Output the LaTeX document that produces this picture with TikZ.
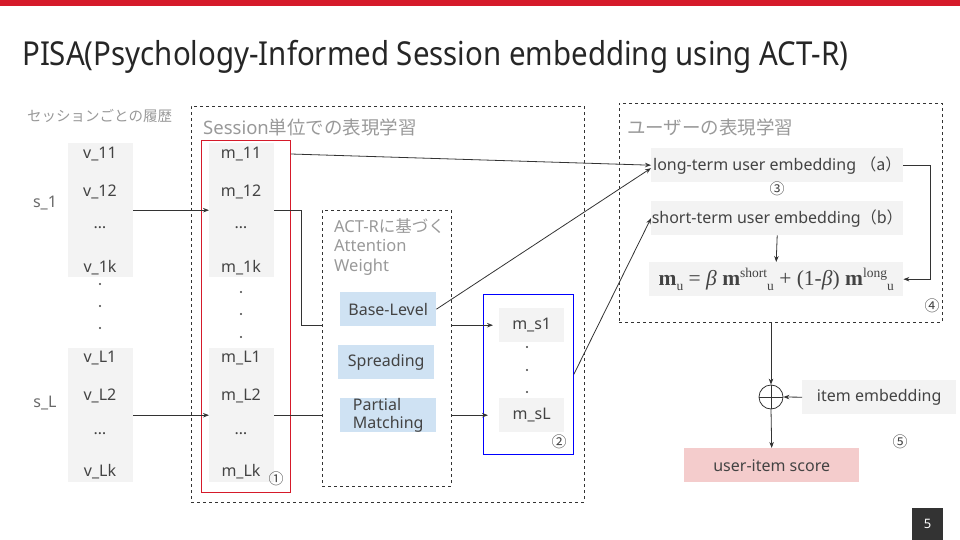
\documentclass[tikz,border=0pt]{standalone}
\usepackage{fontspec}
\setmainfont{Noto Sans}
\newfontfamily\jp{Noto Sans CJK JP}
\newfontfamily\tm{Liberation Serif}
\usepackage{graphicx}
\usepackage{tikz}
\usetikzlibrary{positioning,calc,arrows.meta}
\definecolor{pisared}{HTML}{D51A2A}
\definecolor{boxgray}{HTML}{F3F3F3}
\definecolor{boxblue}{HTML}{CFE2F3}
\definecolor{boxpink}{HTML}{F4CCCC}
\definecolor{labelgray}{HTML}{999999}
\definecolor{ink}{HTML}{434343}
\definecolor{linegray}{HTML}{333333}
\newcommand{\lowu}{\raisebox{-5pt}{\fontsize{13.5}{13.5}\selectfont u}}
\newcommand{\highidx}[1]{\raisebox{7.5pt}{\fontsize{13.5}{13.5}\selectfont #1}}

\begin{document}
\begin{tikzpicture}[x=1pt, y=-1pt, >={Stealth[length=6pt,width=4.5pt]},
  every node/.style={font=\fontsize{16}{18}\selectfont, text=ink, inner sep=0pt},
  col/.style={fill=boxgray, minimum width=65pt, minimum height=134pt, anchor=north west},
  graybox/.style={fill=boxgray, minimum width=#1, minimum height=34pt, anchor=north west},
  wbox/.style={fill=boxblue, minimum width=96pt, minimum height=34pt, align=left, anchor=north west},
  group/.style={draw=linegray, dashed, minimum width=#1, anchor=north west},
  grouptitle/.style={anchor=west, text=labelgray, font=\fontsize{18.5}{20}\selectfont},
  num/.style={font=\jp\fontsize{15}{15}\selectfont},
  conn/.style={draw=linegray, line width=0.8pt}]
\useasboundingbox (0,0) rectangle (960,540);

% top bar and title
\fill[pisared] (0,0) rectangle (960,6);
\node[anchor=base west, text=black!85, font=\fontsize{33}{36}\selectfont] (title) at (22,66)
  {\resizebox{826pt}{\height}{PISA(Psychology-Informed Session embedding using ACT-R)}};

% session history
\node[anchor=west, text=labelgray, font=\jp\fontsize{14.5}{16}\selectfont] (histlabel) at (27,116) {セッションごとの履歴};
\node[text=ink!80] (s1) at (45,203) {s\_1};
\node[text=ink!80] (sL) at (45,403) {s\_L};

% containers
\node[group=393pt, minimum height=396pt] (sess) at (191,106) {};
\node[grouptitle] (sesstitle) at (203,127) {Session{\jp 単位での表現学習}};
\node[group=129pt, minimum height=276pt] (actr) at (322,210) {};
\node[anchor=north west, align=left, text=labelgray, font=\fontsize{16.5}{19.5}\selectfont] (actrtitle) at (334,218)
  {ACT-R{\jp に基づく}\\Attention\\Weight};
\node[group=323pt, minimum height=219pt] (user) at (619,103) {};
\node[grouptitle] (usertitle) at (627,127) {\jp ユーザーの表現学習};

% item and session columns
\node[col] (vcol1) at (68,143) {};
\node[col] (vcolL) at (68,348) {};
\node[col] (mcol1) at (209,143) {};
\node[col] (mcolL) at (209,348) {};
\foreach \c/\x in {v/100, m/241} {
  \foreach \r/\y in {11/154, 12/192, 1k/268, L1/358, L2/396, Lk/472}
    \node (\c\r) at (\x,\y) {\c\_\r};
  \foreach \y in {228, 434}
    \node (\c e\y) at (\x,\y) {…};
}
\foreach \y in {284,306,328} \fill[ink] (100,\y) circle (1.1pt);
\foreach \y in {292,314,337} \fill[ink] (241,\y) circle (1.1pt);
\node[draw=pisared, line width=0.8pt, minimum width=89pt, minimum height=352pt, anchor=north west] (mred) at (201,140) {};
\node[num] (n1) at (276,479) {①};

% attention weights
\node[wbox] (base) at (340,292) {Base-Level};
\node[wbox] (spread) at (338,345) {Spreading};
\node[wbox] (partial) at (340,398) {Partial\\Matching};

% session embeddings
\node[draw=blue, line width=0.8pt, minimum width=90pt, minimum height=160pt, anchor=north west] (sbox) at (483,294) {};
\node[graybox=65pt] (ms1) at (499,308) {m\_s1};
\node[graybox=65pt] (msL) at (499,398) {m\_sL};
\foreach \y in {347,370,392} \fill[ink] (527,\y) circle (1.1pt);
\node[num] (n2) at (559,442) {②};

% user embeddings
\node[graybox=252pt] (lt) at (651,148) {long-term user embedding\ {\jp（a）}};
\node[num] (n3) at (777,189) {③};
\node[graybox=252pt] (st) at (651,201) {short-term user embedding{\jp（b）}};
\node[graybox=254pt] (fm) at (649,262)
  {\tm\fontsize{21.5}{23}\selectfont\textbf{m}\lowu{} = \textit{β} \textbf{m}\highidx{short}\lowu{} + (1-\textit{β}) \textbf{m}\highidx{long}\lowu};
\node[num] (n4) at (932,306) {④};

% scoring
\node[circle, draw=linegray, line width=0.8pt, minimum size=24pt] (plus) at (771,397) {};
\node[graybox=154pt] (item) at (802,380) {item embedding};
\node[fill=boxpink, minimum width=175pt, minimum height=34pt, anchor=north west] (score) at (684,448) {user-item score};
\node[num] (n5) at (900,442) {⑤};
\node[fill=linegray, text=white, minimum width=31pt, minimum height=32pt, anchor=north west, font=\fontsize{13}{13}\selectfont] (pageno) at (912,508) {5};

% connectors
\draw[conn, ->] (vcol1.east) -- (mcol1.west);
\draw[conn, ->] (vcolL.east) -- (mcolL.west);
\draw[conn, ->] (mred.east |- m11) -- (lt.west);
\draw[conn] (mcol1.east) -- ++(27,0) |- (actr.west |- ms1.west);
\draw[conn] (mcolL.east) -- (actr.west |- mcolL.east);
\draw[conn, line width=1.1pt, ->, shorten >=6pt] (actr.east |- ms1.west) -- (ms1.west);
\draw[conn, ->, shorten >=11pt] (actr.east |- msL.west) -- (msL.west);
\draw[conn, ->] (base.east) -- ($(lt.west)+(0,3)$);
\draw[conn, ->] (sbox.east) -- (st.west);
\draw[conn, ->] (st.south) -- (fm.north);
\draw[conn, ->] (lt.east) -- ++(27,0) |- (fm.east);
\draw[conn, ->] (user.south -| plus.north) -- (plus.north);
\draw[conn] (plus.north) -- (plus.south) (plus.west) -- (plus.east);
\draw[conn, ->] (item.west) -- (plus.east);
\draw[conn, ->] (plus.south) -- (score.north);
\end{tikzpicture}
\end{document}
